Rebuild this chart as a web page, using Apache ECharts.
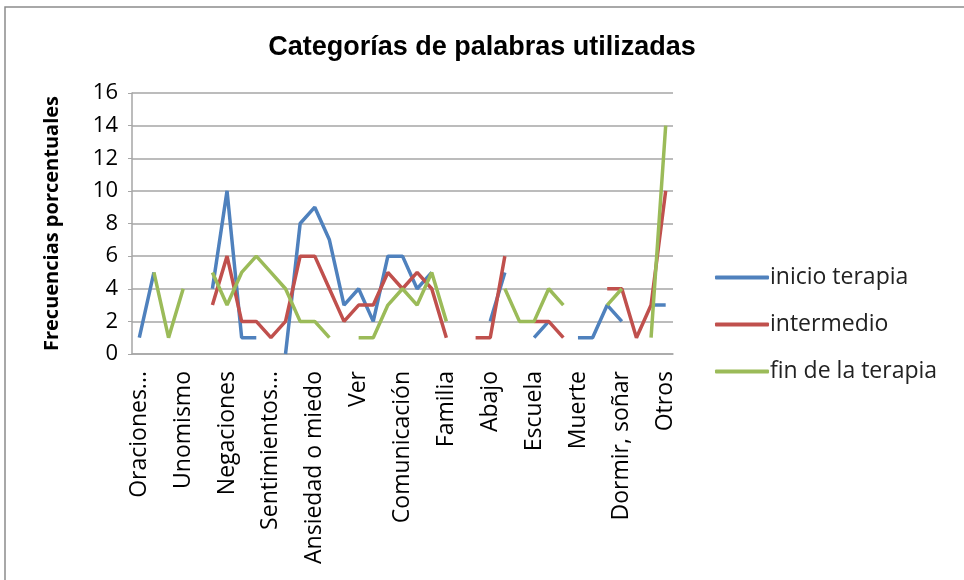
<!DOCTYPE html>
<html>
<head>
<meta charset="utf-8">
<script src="https://cdn.jsdelivr.net/npm/echarts@6/dist/echarts.min.js"></script>
<style>
html,body{margin:0;padding:0;background:#fff;}
#chart{width:964px;height:580px;}
</style>
</head>
<body>
<div id="chart"></div>
<script>
// categorias (solo una de cada tres lleva nombre visible)
var categorias = ['Oraciones...', '', '', 'Unomismo', '', '', 'Negaciones', '', '',
	'Sentimientos...', '', '', 'Ansiedad o miedo', '', '', 'Ver', '', '',
	'Comunicación', '', '', 'Familia', '', '', 'Abajo', '', '', 'Escuela', '', '',
	'Muerte', '', '', 'Dormir, soñar', '', '', 'Otros'];

var inicioTerapia = [1, 5, null, null, null, 4, 10, 1, 1, null, 0, 8, 9, 7, 3, 4, 2, 6, 6, 4, 5,
	null, null, null, 2, 5, null, 1, 2, null, 1, 1, 3, 2, null, 3, 3];
var intermedio = [null, null, null, null, null, 3, 6, 2, 2, 1, 2, 6, 6, 4, 2, 3, 3, 5, 4, 5, 4,
	1, null, 1, 1, 6, null, 2, 2, 1, null, null, 4, 4, 1, 3, 10];
var finTerapia = [null, 5, 1, 4, null, 5, 3, 5, 6, 5, 4, 2, 2, 1, null, 1, 1, 3, 4, 3, 5,
	2, null, null, null, 4, 2, 2, 4, 3, null, null, 3, 4, null, 1, 14];

var ticksY = [0, 2, 4, 6, 8, 10, 12, 14, 16];

var chart = echarts.init(document.getElementById('chart'));
var fuente = 'Open Sans';

function serie(nombre, datos, color) {
	return {
		name : nombre,
		type : 'line',
		data : datos,
		symbol : 'none',
		connectNulls : false,
		lineStyle : { color : color, width : 3.5 },
		itemStyle : { color : color }
	};
}

chart.setOption({
	animation : false,
	graphic : [ {
		type : 'rect',
		shape : { x : 5, y : 7, width : 1000, height : 620 },
		style : { fill : 'none', stroke : '#8c8c8c', lineWidth : 1.5 }
	} ],
	title : {
		text : 'Categorías de palabras utilizadas',
		left : 'center',
		top : 29,
		textStyle : {
			fontFamily : 'Liberation Sans',
			fontSize : 27,
			fontWeight : 'bold',
			color : '#000'
		}
	},
	legend : {
		orient : 'vertical',
		left : 710,
		top : 261,
		itemGap : 24,
		itemWidth : 54,
		itemHeight : 4,
		icon : 'roundRect',
		textStyle : { fontFamily : fuente, fontSize : 23, color : '#222', padding : [0, 0, 0, -4] },
		data : [ 'inicio terapia', 'intermedio', 'fin de la terapia' ]
	},
	grid : {
		left : 132,
		right : 291,
		top : 93,
		bottom : 226,
		containLabel : false
	},
	xAxis : {
		type : 'category',
		data : categorias,
		boundaryGap : true,
		axisLine : { lineStyle : { color : '#a6a6a6', width : 1.5 } },
		axisTick : { show : false },
		axisLabel : {
			interval : 2,
			rotate : 90,
			margin : 17,
			fontFamily : fuente,
			fontSize : 23,
			color : '#000'
		}
	},
	yAxis : {
		type : 'value',
		min : 0,
		max : 16,
		interval : 2,
		name : 'Frecuencias porcentuales',
		nameLocation : 'middle',
		nameGap : 70,
		nameRotate : 90,
		nameTextStyle : { fontFamily : fuente, fontSize : 20, fontWeight : 'bold', color : '#000' },
		axisLine : { show : true, lineStyle : { color : '#a6a6a6', width : 1.5 } },
		axisTick : { show : true, length : 4, lineStyle : { color : '#a6a6a6' } },
		axisLabel : { fontFamily : fuente, fontSize : 22, color : '#000', margin : 14 },
		splitLine : { lineStyle : { color : '#a6a6a6', width : 1.5 } }
	},
	series : [
		serie('inicio terapia', inicioTerapia, '#4f81bd'),
		serie('intermedio', intermedio, '#c0504d'),
		serie('fin de la terapia', finTerapia, '#9bbb59')
	]
});
</script>
</body>
</html>
